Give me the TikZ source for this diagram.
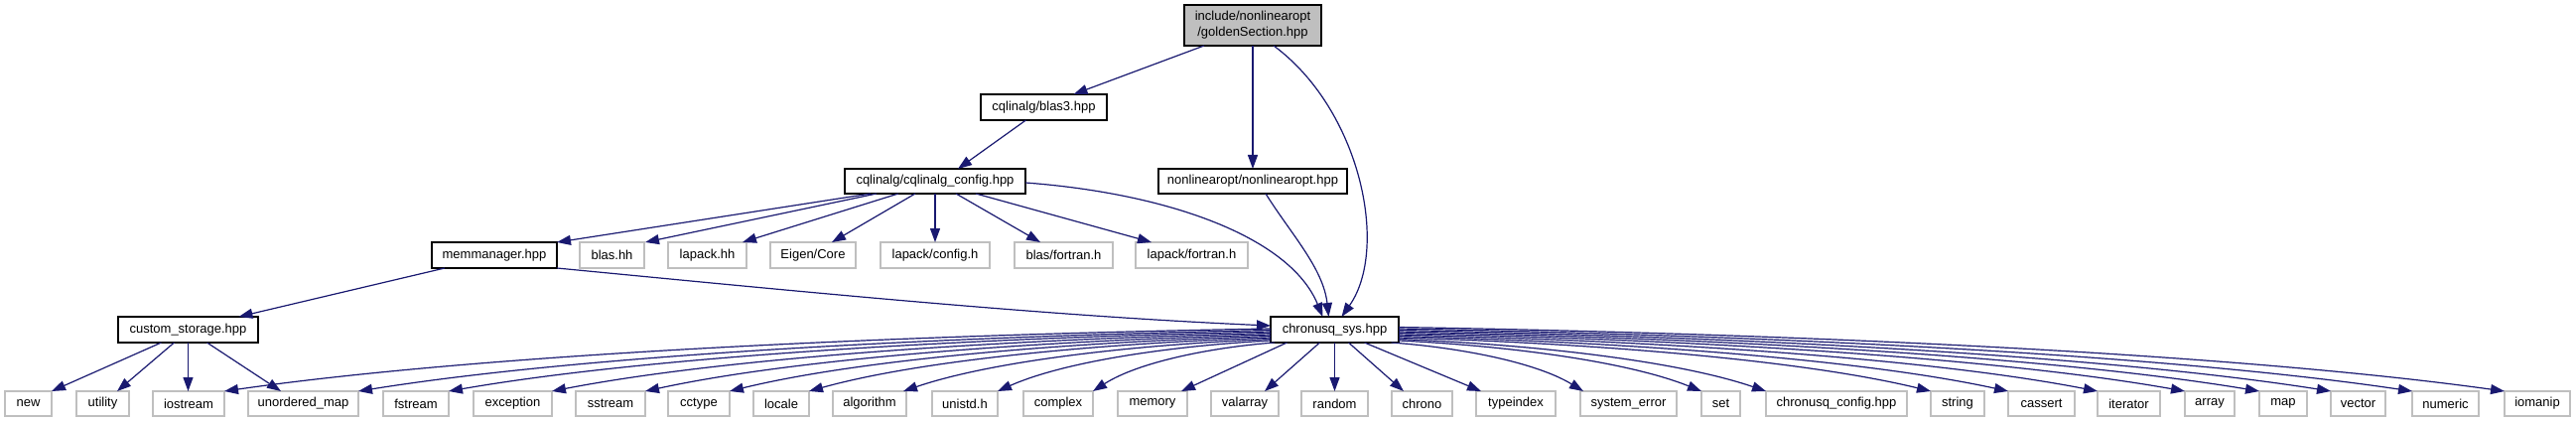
\documentclass[tikz,border=0pt]{standalone}
\usepackage{fontspec}
\setmainfont{Liberation Sans}
\usetikzlibrary{arrows.meta,calc}
\definecolor{navy}{RGB}{25,25,112}
\definecolor{leafgray}{RGB}{191,191,191}
\newcommand\nd[7]{\node[#6, minimum width={(#3)-(#2)}, minimum height={(#5)-(#4)}] (#1) at ({((#2)+(#3))/2},{((#4)+(#5))/2}) {#7};}
\newcommand\cv[2]{\draw[dep] let \p1=(#1), \p2=(#2) in (\p1) .. controls ({\x1+0.35*(\x2-\x1)},{\y1+0.1*(\y2-\y1)}) and ({\x1+0.75*(\x2-\x1)},{\y1+0.4*(\y2-\y1)}) .. (\p2);}
\begin{document}
\begin{tikzpicture}[x=1pt,y=-1pt,
  every node/.style={font=\fontsize{13}{16}\selectfont, inner sep=0pt, outer sep=0pt, rectangle, align=center},
  mainbox/.style={draw=black, fill=leafgray, line width=1.5pt},
  incbox/.style={draw=black, fill=white, line width=1.5pt},
  leafbox/.style={draw=leafgray, fill=white, line width=1.5pt},
  dep/.style={draw=navy, line width=1.2pt, -{Triangle[length=14pt,width=10pt]}}
]
\useasboundingbox (0,0) rectangle (2595,425);
% nodes
\nd{main}{1193}{1331}{5}{46}{mainbox}{include/nonlinearopt\\/goldenSection.hpp}
\nd{blasthree}{988}{1115}{95}{121}{incbox}{cqlinalg/blas3.hpp}
\nd{cqconf}{851}{1033}{170}{195}{incbox}{cqlinalg/cqlinalg\_config.hpp}
\nd{nlopt}{1167}{1357}{170}{195}{incbox}{nonlinearopt/nonlinearopt.hpp}
\nd{memman}{435}{561}{244}{270}{incbox}{memmanager.hpp}
\nd{blashh}{584}{649}{244}{270}{leafbox}{blas.hh}
\nd{lapackhh}{673}{752}{244}{270}{leafbox}{lapack.hh}
\nd{eigen}{776}{862}{244}{270}{leafbox}{Eigen/Core}
\nd{lapconf}{887}{997}{244}{270}{leafbox}{lapack/config.h}
\nd{blasfort}{1022}{1121}{244}{270}{leafbox}{blas/fortran.h}
\nd{lapfort}{1144}{1257}{244}{270}{leafbox}{lapack/fortran.h}
\nd{custom}{119}{260}{319}{345}{incbox}{custom\_storage.hpp}
\nd{cs}{1280}{1409}{319}{345}{incbox}{chronusq\_sys.hpp}
\nd{hnew}{5}{52}{394}{419}{leafbox}{new}
\nd{hutility}{77}{130}{394}{419}{leafbox}{utility}
\nd{hiostream}{154}{226}{394}{419}{leafbox}{iostream}
\nd{humap}{250}{361}{394}{419}{leafbox}{unordered\_map}
\nd{hfstream}{386}{452}{394}{419}{leafbox}{fstream}
\nd{hexception}{477}{556}{394}{419}{leafbox}{exception}
\nd{hsstream}{580}{650}{394}{419}{leafbox}{sstream}
\nd{hcctype}{673}{735}{394}{419}{leafbox}{cctype}
\nd{hlocale}{759}{815}{394}{419}{leafbox}{locale}
\nd{halgorithm}{839}{913}{394}{419}{leafbox}{algorithm}
\nd{hunistd}{939}{1005}{394}{419}{leafbox}{unistd.h}
\nd{hcomplex}{1031}{1101}{394}{419}{leafbox}{complex}
\nd{hmemory}{1126}{1196}{394}{419}{leafbox}{memory}
\nd{hvalarray}{1220}{1288}{394}{419}{leafbox}{valarray}
\nd{hrandom}{1311}{1378}{394}{419}{leafbox}{random}
\nd{hchrono}{1402}{1463}{394}{419}{leafbox}{chrono}
\nd{htypeindex}{1487}{1567}{394}{419}{leafbox}{typeindex}
\nd{hsyserr}{1592}{1689}{394}{419}{leafbox}{system\_error}
\nd{hset}{1714}{1753}{394}{419}{leafbox}{set}
\nd{hcsconf}{1779}{1921}{394}{419}{leafbox}{chronusq\_config.hpp}
\nd{hstring}{1945}{1999}{394}{419}{leafbox}{string}
\nd{hcassert}{2023}{2090}{394}{419}{leafbox}{cassert}
\nd{hiterator}{2113}{2176}{394}{419}{leafbox}{iterator}
\nd{harray}{2201}{2251}{394}{419}{leafbox}{array}
\nd{hmap}{2276}{2324}{394}{419}{leafbox}{map}
\nd{hvector}{2348}{2403}{394}{419}{leafbox}{vector}
\nd{hnumeric}{2430}{2497}{394}{419}{leafbox}{numeric}
\nd{hiomanip}{2523}{2589}{394}{419}{leafbox}{iomanip}
% edges from main
\draw[dep] ([xshift=-49pt]main.south) -- ([xshift=30pt]blasthree.north);
\draw[dep] (main.south) -- (nlopt.north);
\draw[dep] ([xshift=21pt]main.south) .. controls (1370,110) and (1400,250) .. ([xshift=7pt]cs.north);
% blas3
\draw[dep] ([xshift=-18pt]blasthree.south) -- ([xshift=23pt]cqconf.north);
% nonlinearopt
\draw[dep] ([xshift=13pt]nlopt.south) .. controls (1300,235) and (1333,270) .. ([xshift=-6pt]cs.north);
% cqlinalg_config
\draw[dep] ([yshift=-1.5pt]cqconf.east) .. controls (1180,195) and (1300,240) .. ([xshift=-12pt]cs.north);
\draw[dep] ([xshift=-65pt]cqconf.south) -- (memman.north east);
\draw[dep] ([xshift=-59pt]cqconf.south) -- ([xshift=1pt]blashh.north east);
\draw[dep] ([xshift=-37pt]cqconf.south) -- ([xshift=-4pt]lapackhh.north east);
\draw[dep] ([xshift=-20pt]cqconf.south) -- ([xshift=-24pt]eigen.north east);
\draw[dep] (cqconf.south) -- (lapconf.north);
\draw[dep] ([xshift=21pt]cqconf.south) -- ([xshift=-23.5pt]blasfort.north);
\draw[dep] ([xshift=41pt]cqconf.south) -- ([xshift=-40.5pt]lapfort.north);
% memmanager
\draw[dep] ([xshift=-50pt]memman.south) -- ([xshift=51pt]custom.north);
\draw[dep] (memman.south east) .. controls (800,293) and (1050,318) .. ([yshift=4pt]cs.west);
% custom_storage
\draw[dep] ([xshift=-27pt]custom.south) -- (hnew.north east);
\draw[dep] ([xshift=-14pt]custom.south) -- ([xshift=14.5pt]hutility.north);
\draw[dep] (custom.south) -- (custom.south |- hiostream.north);
\draw[dep] ([xshift=19pt]custom.south) -- ([xshift=-22.5pt]humap.north);
% chronusq_sys to the left
\cv{[yshift=1pt]cs.west}{hiostream.north east}
\cv{[yshift=-0.5pt]cs.west}{humap.north east}
\cv{[yshift=-2pt]cs.west}{hfstream.north east}
\cv{[yshift=-3.5pt]cs.west}{hexception.north east}
\cv{[yshift=-5pt]cs.west}{hsstream.north east}
\cv{[yshift=-6.5pt]cs.west}{hcctype.north east}
\cv{[yshift=-8pt]cs.west}{hlocale.north east}
\cv{[yshift=-9.5pt]cs.west}{[xshift=-3pt]halgorithm.north east}
\cv{[yshift=-11pt]cs.west}{hunistd.north east}
\cv{[xshift=4pt]cs.south west}{hcomplex.north east}
% chronusq_sys straight down
\draw[dep] ([xshift=-48pt]cs.south) -- ([xshift=-6pt]hmemory.north east);
\draw[dep] ([xshift=-15pt]cs.south) -- ([xshift=-14pt]hvalarray.north east);
\draw[dep] (cs.south) -- (hrandom.north);
\draw[dep] ([xshift=14pt]cs.south) -- ([xshift=12pt]hchrono.north west);
\draw[dep] ([xshift=30pt]cs.south) -- ([xshift=5pt]htypeindex.north west);
\cv{[xshift=57pt]cs.south}{[xshift=3pt]hsyserr.north west}
% chronusq_sys to the right
\cv{[yshift=-11pt]cs.east}{hset.north west}
\cv{[yshift=-9.5pt]cs.east}{hcsconf.north west}
\cv{[yshift=-8pt]cs.east}{hstring.north west}
\cv{[yshift=-6.5pt]cs.east}{hcassert.north west}
\cv{[yshift=-5pt]cs.east}{hiterator.north west}
\cv{[yshift=-3.5pt]cs.east}{harray.north west}
\cv{[yshift=-2pt]cs.east}{hmap.north west}
\cv{[yshift=-0.5pt]cs.east}{hvector.north west}
\cv{[yshift=1pt]cs.east}{hnumeric.north west}
\cv{[yshift=2.5pt]cs.east}{hiomanip.north west}
\end{tikzpicture}
\end{document}
